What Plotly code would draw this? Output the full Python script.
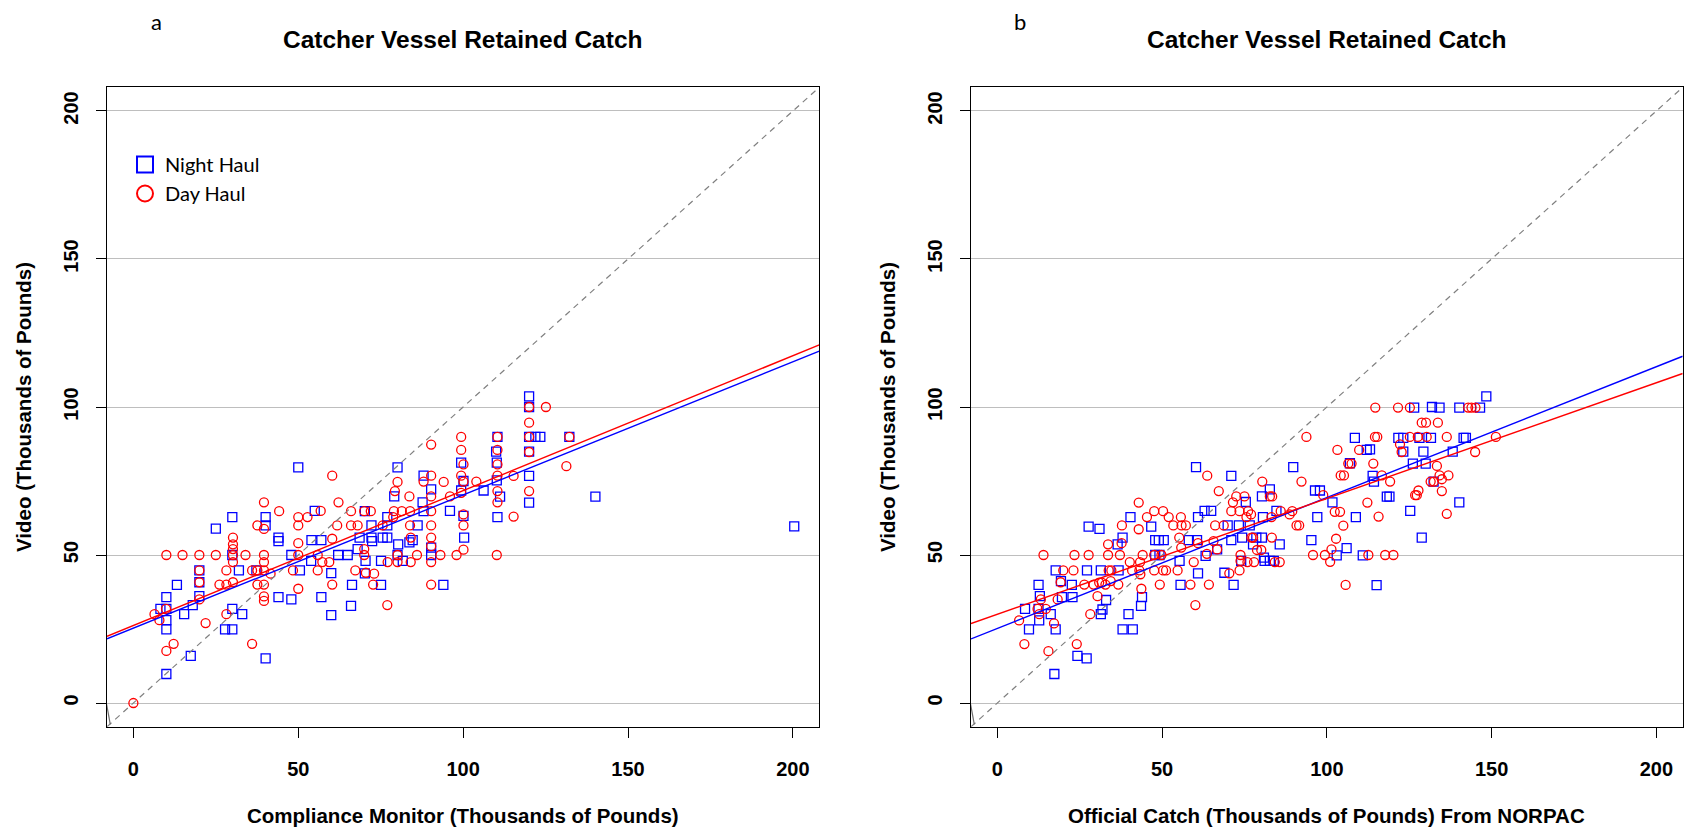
import plotly.graph_objects as go

# ---------------- data ----------------
# Panel a: Compliance Monitor (x) vs Video (y), thousands of pounds
a_night_x = [10, 10, 10, 10, 10, 8.2, 13.2, 15.4, 17.4, 18, 20, 20, 20, 25, 27.8, 30, 30, 30, 30, 32, 33,
             37.3, 40.1, 40.1, 40.1, 44, 44, 44, 47.9, 47.9, 50, 50.5, 53.9, 54, 55, 57, 57, 60, 60, 62.1, 65,
             66, 66.3, 68, 68.6, 70.2, 70.4, 70.2, 72.2, 72.2, 72.4, 75.1, 75.1, 75.6, 77, 77, 77, 79.1, 80.1,
             80.3, 80.1, 81.7, 83.7, 84.7, 86.2, 87.7, 88, 88, 90.3, 90.3, 90.3, 94, 96, 99.4, 100.1, 99.4,
             100.1, 100.3, 106.2, 110.4, 110, 110.2, 110.2, 111.2, 110.4, 120, 120, 120, 120, 120, 120, 121.9,
             123.4, 132.2, 140.1, 200.4]
a_night_y = [9.8, 24.9, 28, 31.8, 35.8, 31.8, 39.9, 30, 15.9, 33.1, 44.8, 40.8, 36.1, 58.9, 24.9, 24.9, 62.8,
             50, 31.8, 44.8, 30, 44.8, 62.8, 60, 15.1, 55.9, 54.7, 35.8, 35, 50, 79.6, 44.8, 48, 55, 64.9, 55,
             35.8, 43.9, 29.7, 50, 50, 32.8, 39.9, 52, 55.9, 64.8, 48, 43.8, 60, 55.9, 54.7, 48, 39.9, 55.9,
             62.8, 60, 55.9, 69.8, 79.6, 53.6, 50, 48, 54.3, 55, 60, 67.8, 76.8, 64.8, 72.2, 52.5, 50, 39.9,
             64.9, 81.2, 75, 71.8, 63.2, 55.9, 71.8, 89.9, 84.9, 81.2, 75.2, 69.7, 62.8, 103.6, 100, 89.9, 84.9,
             76.7, 67.7, 89.9, 89.9, 89.9, 69.7, 59.7]
a_day_x = [0, 6.4, 7.9, 9.9, 10, 10, 12.2, 14.9, 20, 20, 20, 20, 21.9, 25, 26.1, 28.2, 28.2, 28.2, 30.2, 30.2,
           30.2, 30.2, 30.2, 30.2, 34, 36, 36, 37.6, 37.6, 37.6, 39.6, 39.6, 39.6, 39.6, 39.6, 39.6, 39.6,
           39.6, 41.6, 44.2, 48.4, 50, 50, 50, 50, 50, 52.8, 55.9, 55.9, 56.8, 57.3, 59.4, 60.3, 60.3, 60.3,
           61.8, 62.2, 66, 66, 67.3, 68, 70, 70, 70, 70.5, 72, 72.7, 73, 75.6, 77, 77.1, 78.8, 79, 79.3, 80.1,
           80.1, 80.1, 81.4, 83.7, 83.9, 83.9, 84.1, 84.1, 86, 88, 90.3, 90.3, 90.3, 90.3, 90.3, 90.3, 90.3,
           90.3, 90.3, 93.1, 94.1, 96, 98, 99.4, 99.4, 100.1, 99.4, 100.1, 99.4, 100.1, 100.1, 100.1, 104,
           110.4, 110.4, 110.4, 110.4, 110.4, 110.4, 110.2, 115.3, 115.3, 120, 120, 120, 120, 120, 125.1,
           132.2, 131.3]
a_day_y = [0, 30, 28, 31.8, 50, 17.6, 20, 50, 50, 44.8, 40.8, 35, 27, 50, 40, 44.8, 40, 30, 55.9, 53.6, 52,
           50, 47.6, 40.8, 50, 20, 44.8, 60, 40, 44.8, 67.8, 58.8, 50, 47.6, 44.8, 36, 34.5, 40, 43.7, 64.8,
           44.8, 62.8, 60, 54, 50, 38.6, 62.8, 50, 44.8, 64.9, 47.6, 47.6, 76.8, 55.5, 40, 60, 67.8, 64.8, 60,
           44.8, 60, 64.8, 52, 50, 44, 64.8, 40, 43.7, 60, 33.1, 47.6, 62.8, 64.8, 71.6, 74.7, 50, 47.6, 64.8,
           69.8, 60, 64.8, 55.9, 47.6, 50, 74.8, 87.3, 76.8, 69.8, 64.8, 60, 55.9, 53, 47.6, 40, 50, 74.7,
           69.8, 50, 89.9, 85.5, 80.6, 76.8, 74.8, 71, 63.7, 60, 51.8, 74.8, 89.9, 85.5, 80.6, 76.8, 71.6,
           67.8, 50, 76.7, 63, 100, 94.7, 89.9, 84.8, 71.6, 100, 89.9, 80]

# Panel b: Official Catch from NORPAC (x) vs Video (y)
b_night_x = [8.4, 9.6, 12.5, 12.9, 12.5, 12.7, 16.2, 17.3, 17.7, 17.7, 19.3, 19.6, 22.6, 22.8, 24.3, 27.1,
             27.2, 27.7, 31, 31.4, 31.9, 33, 31.4, 36.5, 36.8, 38, 38, 39.8, 41.1, 40.4, 43.6, 43.9, 46.7,
             47.9, 49, 50.5, 47.9, 49.2, 55.3, 55.6, 58.1, 60.3, 60.9, 60.9, 60.6, 63.2, 62.9, 64.9, 66.7,
             68.9, 69.9, 71, 71, 71.7, 74, 73.3, 74.3, 75.4, 76.6, 77.6, 78.6, 80.3, 80.3, 80.6, 80.9, 82.7,
             81.1, 82.7, 83.9, 84.7, 85.7, 89.8, 95.3, 97.1, 96.4, 97.9, 101.7, 103, 106, 107, 108.5, 108.8,
             110.9, 112.1, 113.1, 113.9, 114.3, 115.1, 118.2, 119, 121.7, 123.2, 123.2, 125.3, 126.1, 126.5,
             128.1, 129.3, 128.8, 130, 131.6, 131.9, 132.4, 134.2, 138.2, 140.2, 140.2, 141.5, 142.2, 146.5,
             148.4]
b_night_y = [31.8, 24.9, 39.9, 36.1, 31.8, 27.9, 30, 9.8, 44.8, 24.9, 41.2, 35.8, 39.9, 35.8, 15.9, 15.1,
             44.8, 59.6, 58.8, 30, 31.6, 34.8, 44.8, 53.6, 44.8, 24.9, 55.9, 30, 24.9, 62.8, 32.8, 35.8, 59.6,
             55, 55, 55, 50, 50, 48, 39.9, 55, 79.7, 62.8, 43.8, 55, 49.7, 64.9, 64.9, 51.9, 44, 60, 76.7, 55,
             39.9, 48, 60, 55.9, 67.9, 60, 53.6, 55.9, 55.9, 69.8, 62.8, 49.1, 72.2, 48, 48, 48, 64.9, 53.6,
             79.7, 55, 62.8, 71.8, 71.8, 67.8, 49.9, 52.3, 81, 89.6, 62.8, 49.9, 85.5, 85.7, 76.7, 74.8, 39.8,
             69.7, 69.7, 89.6, 89.6, 84.9, 64.9, 80.9, 99.8, 89.6, 84.9, 55.9, 80.9, 89.6, 100, 74.8, 99.8,
             84.9, 99.8, 67.8, 89.6, 89.6, 99.8, 103.6]
b_day_x = [6.6, 8.2, 12.2, 12.7, 13.2, 14, 14.7, 15.5, 17.2, 18.3, 19.2, 20, 23.1, 23.4, 24.1, 26.4, 27.7,
           28.2, 29.2, 30.4, 30.9, 31.7, 32.8, 33.6, 33.6, 33.8, 34.6, 34.4, 36.7, 37.2, 37.7, 37.8, 40.2,
           40.9, 42.9, 42.9, 43.1, 43.4, 43.7, 43.3, 44.1, 45.4, 47.6, 47.6, 47.6, 49.3, 50.3, 49.8, 50.3,
           51.2, 52, 53.4, 54.7, 55.2, 55.8, 55.7, 55.9, 57.2, 58.6, 59.6, 60.1, 60.9, 63.7, 63.6, 64.2, 65.6,
           66.1, 66.7, 67.2, 68.7, 70.4, 71.5, 71, 72.5, 73.5, 73.5, 73.8, 73.8, 75, 75.6, 76.1, 75.9, 77,
           77.9, 77.1, 77.6, 78.8, 80.1, 80.4, 82.7, 83.4, 83.2, 83.3, 85.7, 84.2, 86, 88.7, 89.5, 90.8, 91.6,
           92.3, 93.8, 95.8, 98.9, 99.4, 101, 101.4, 102.8, 103.2, 102.4, 104, 105, 104.2, 105.2, 105.7,
           106.5, 107.5, 109.8, 112.3, 112.6, 114.1, 114.6, 115.3, 114.7, 115.7, 116.7, 117.7, 119.2, 120.2,
           121.6, 122.2, 122.7, 125.2, 125.2, 126.8, 127.8, 127.3, 127.6, 128.8, 130.1, 130.3, 131.5, 132.5,
           133.4, 133.7, 134.2, 134.9, 134.9, 136.4, 136.9, 136.4, 142.9, 143.9, 145.1, 145, 151.3]
b_day_y = [27.9, 19.9, 31.8, 30, 35, 50, 31.8, 17.5, 26.9, 35, 40.8, 44.8, 44.8, 50, 19.9, 40, 50, 30, 40,
           36.1, 40.7, 40.7, 40, 50, 53.6, 44.8, 44.8, 41.2, 40, 50, 54, 60, 47.6, 44.8, 67.7, 58.7, 44.8,
           43.5, 38.6, 47.6, 50, 62.8, 64.8, 50, 44.8, 40, 64.8, 50, 44.8, 44.8, 62.8, 60, 44.8, 55.9, 52.5,
           62.8, 60, 60, 40, 47.6, 33.1, 54, 76.8, 50.4, 40, 54.7, 60, 51.9, 71.6, 60, 43.8, 67.8, 64.8, 69.8,
           64.8, 44.8, 50, 48, 69.8, 62.8, 64.8, 47.6, 63.7, 47.6, 55.9, 55.9, 51.7, 51.7, 74.8, 69.8, 69.8,
           62.8, 55.9, 47.6, 47.6, 64.8, 63.7, 64.8, 60, 60, 74.8, 89.9, 50, 70.2, 50, 47.7, 51.9, 55.5,
           85.5, 64.6, 64.6, 59.9, 76.9, 76.9, 39.9, 80.9, 80.9, 85.5, 67.7, 50, 80.9, 89.9, 89.9, 99.8, 63,
           76.9, 50, 74.8, 50, 99.8, 87.4, 84.8, 99.8, 89.9, 70.2, 71.8, 70.2, 89.9, 94.7, 94.7, 89.9, 74.8,
           74.8, 80.1, 94.7, 76.9, 75.6, 71.6, 89.9, 76.9, 63.9, 99.8, 99.8, 99.8, 84.8, 89.9]

# Fitted regression lines (intercept, slope)
a_night_fit = (25.3, 0.450)
a_day_fit = (26.2, 0.4556)
b_night_fit = (25.2, 0.442)
b_day_fit = (30.0, 0.391)

# Small solid grey stub drawn near the lower-left corner of each panel
stub_x = [-8.2, -7.0]
stub_y = [0.0, -7.2]

axis_range = [-8, 208]
tick_vals = [0, 50, 100, 150, 200]
tick_text = ["0", "50", "100", "150", "200"]

title_text = "Catcher Vessel Retained Catch"
a_xlabel = "Compliance Monitor (Thousands of Pounds)"
b_xlabel = "Official Catch (Thousands of Pounds) From NORPAC"
ylabel = "Video (Thousands of Pounds)"
panel_letters = ["a", "b"]
legend_names = ["Night Haul", "Day Haul"]

BLUE = "#0000FF"
RED = "#FF0000"
W, H = 1684, 828

fig = go.Figure()

panels = [
    ("x", "y", a_night_x, a_night_y, a_day_x, a_day_y, a_night_fit, a_day_fit),
    ("x2", "y2", b_night_x, b_night_y, b_day_x, b_day_y, b_night_fit, b_day_fit),
]
for xa, ya, nx, ny, dx, dy, nfit, dfit in panels:
    fig.add_trace(go.Scatter(x=nx, y=ny, mode="markers", xaxis=xa, yaxis=ya, showlegend=False,
                             marker=dict(symbol="square-open", size=9, color=BLUE, line=dict(width=1.3))))
    fig.add_trace(go.Scatter(x=dx, y=dy, mode="markers", xaxis=xa, yaxis=ya, showlegend=False,
                             marker=dict(symbol="circle-open", size=9, color=RED, line=dict(width=1.3))))
    fig.add_trace(go.Scatter(x=axis_range, y=axis_range, mode="lines", xaxis=xa, yaxis=ya, showlegend=False,
                             line=dict(color="#808080", width=1.2, dash="6px,5px")))
    fig.add_trace(go.Scatter(x=stub_x, y=stub_y, mode="lines", xaxis=xa, yaxis=ya, showlegend=False,
                             line=dict(color="#707070", width=1.2)))
    for (b0, b1), col in ((nfit, BLUE), (dfit, RED)):
        fig.add_trace(go.Scatter(x=axis_range, y=[b0 + b1 * v for v in axis_range], mode="lines",
                                 xaxis=xa, yaxis=ya, showlegend=False, line=dict(color=col, width=1.4)))

# legend entries
fig.add_trace(go.Scatter(x=[None], y=[None], mode="markers", name=legend_names[0], xaxis="x", yaxis="y",
                         marker=dict(symbol="square-open", size=16, color=BLUE, line=dict(width=2))))
fig.add_trace(go.Scatter(x=[None], y=[None], mode="markers", name=legend_names[1], xaxis="x", yaxis="y",
                         marker=dict(symbol="circle-open", size=16, color=RED, line=dict(width=2))))

tick_font = dict(family="Liberation Sans, Arial, sans-serif", size=20, color="black", weight="bold")

def xaxis(domain, anchor):
    return dict(domain=domain, anchor=anchor, range=axis_range, tickmode="array", tickvals=tick_vals,
                ticktext=tick_text, showgrid=False, zeroline=False, showline=True, linecolor="black",
                linewidth=1.3, mirror=True, ticks="outside", ticklen=10, tickwidth=1.3, tickcolor="black",
                tickfont=tick_font, ticklabelstandoff=14)

def yaxis(domain, anchor):
    return dict(domain=domain, anchor=anchor, range=axis_range, tickmode="array", tickvals=tick_vals,
                ticktext=tick_text, showgrid=True, gridcolor="#BEBEBE", gridwidth=1.3, zeroline=False,
                showline=True, linecolor="black", linewidth=1.3, mirror=True, ticks="outside", ticklen=10,
                tickwidth=1.3, tickcolor="black", tickfont=tick_font, tickangle=-90, ticklabelstandoff=10)

ydom = [1 - 726.7 / H, 1 - 87.3 / H]
xdom_a = [107 / W, 819.3 / W]
xdom_b = [971 / W, 1682.7 / W]

title_font = dict(family="Liberation Sans, Arial, sans-serif", size=24.5, color="black", weight="bold")
label_font = dict(family="Liberation Sans, Arial, sans-serif", size=20.5, color="black", weight="bold")
letter_font = dict(family="Lato, sans-serif", size=22, color="black")

annotations = []
for dom, xlabel, letter in ((xdom_a, a_xlabel, panel_letters[0]), (xdom_b, b_xlabel, panel_letters[1])):
    cx = (dom[0] + dom[1]) / 2
    annotations.append(dict(text=title_text, x=cx, y=1 - 40 / H, xref="paper", yref="paper",
                            xanchor="center", yanchor="middle", showarrow=False, font=title_font))
    annotations.append(dict(text=xlabel, x=cx, y=1 - 815 / H, xref="paper", yref="paper",
                            xanchor="center", yanchor="middle", showarrow=False, font=label_font))
    annotations.append(dict(text=ylabel, x=dom[0] - 83 / W, y=(ydom[0] + ydom[1]) / 2, xref="paper",
                            yref="paper", xanchor="center", yanchor="middle", textangle=-90,
                            showarrow=False, font=label_font))
    annotations.append(dict(text=letter, x=dom[0] + 49 / W, y=1 - 21 / H, xref="paper", yref="paper",
                            xanchor="center", yanchor="middle", showarrow=False, font=letter_font))

fig.update_layout(
    width=W, height=H, margin=dict(l=0, r=0, t=0, b=0),
    paper_bgcolor="white", plot_bgcolor="white",
    xaxis=xaxis(xdom_a, "y"), yaxis=yaxis(ydom, "x"),
    xaxis2=xaxis(xdom_b, "y2"), yaxis2=yaxis(ydom, "x2"),
    annotations=annotations,
    showlegend=True,
    legend=dict(x=125 / W, y=1 - 145 / H, xanchor="left", yanchor="top", bgcolor="rgba(0,0,0,0)",
                borderwidth=0, font=dict(family="Lato, sans-serif", size=20, color="black"),
                tracegroupgap=0, itemsizing="trace"),
)

fig.write_html("out.html")
